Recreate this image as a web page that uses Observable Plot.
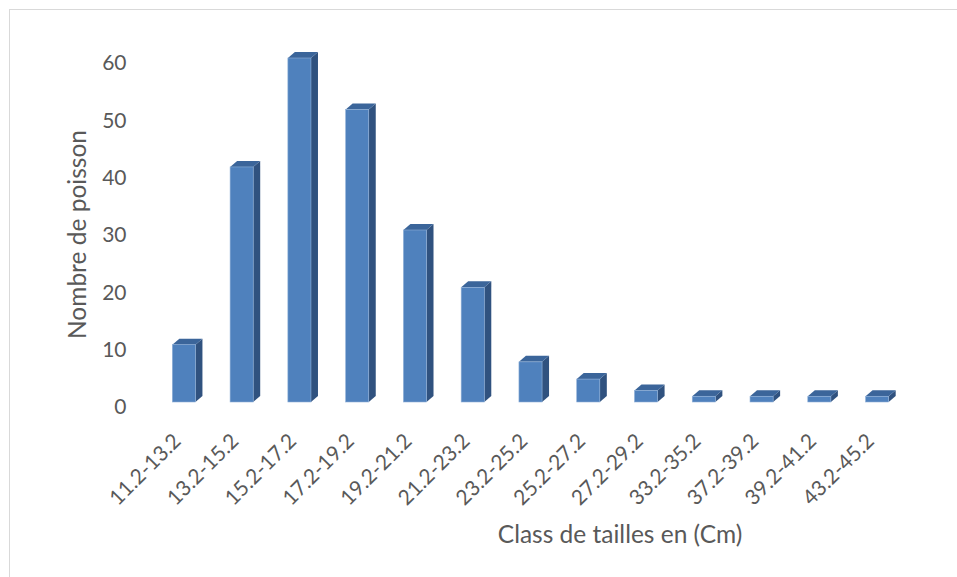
<!DOCTYPE html>
<html>
<head>
<meta charset="utf-8">
<script src="https://cdn.jsdelivr.net/npm/d3@7"></script>
<script src="https://cdn.jsdelivr.net/npm/@observablehq/plot@0.6"></script>
<style>
  html, body { margin: 0; padding: 0; background: #fff; }
  #wrap { position: relative; width: 957px; height: 577px; overflow: hidden; }
  #frame { position: absolute; left: 9px; top: 9px; right: -5px; bottom: -5px;
           border-left: 1.5px solid #d9d9d9; border-top: 1.5px solid #d9d9d9; pointer-events: none; }
  svg { display: block; }
</style>
</head>
<body>
<div id="wrap"><div id="chart"></div><div id="frame"></div></div>
<script>
const categories = ["11.2-13.2", "13.2-15.2", "15.2-17.2", "17.2-19.2", "19.2-21.2", "21.2-23.2",
  "23.2-25.2", "25.2-27.2", "27.2-29.2", "33.2-35.2", "37.2-39.2", "39.2-41.2", "43.2-45.2"];
const counts = [10, 41, 60, 51, 30, 20, 7, 4, 2, 1, 1, 1, 1];
const yTicks = [0, 10, 20, 30, 40, 50, 60];
const yTitle = "Nombre de poisson";
const xTitle = "Class de tailles en (Cm)";

const data = categories.map((c, i) => ({cat: c, n: counts[i]}));

const DEPTH_X = 7, DEPTH_Y = -6;
const FRONT = "#4f81bd", SIDE = "#30527f", TOP = "#3b659a";

function render3D(index, scales, values, dimensions, context) {
  const doc = context.document;
  const ns = "http://www.w3.org/2000/svg";
  const g = doc.createElementNS(ns, "g");
  const bw = scales.x.bandwidth();
  for (const i of index) {
    const x0 = values.x[i];
    const x1 = x0 + bw;
    const yb = values.y1[i];
    const yt = values.y2[i];
    const side = doc.createElementNS(ns, "path");
    side.setAttribute("d", `M${x1},${yb}L${x1 + DEPTH_X},${yb + DEPTH_Y}L${x1 + DEPTH_X},${yt + DEPTH_Y}L${x1},${yt}Z`);
    side.setAttribute("fill", SIDE);
    g.appendChild(side);
    const top = doc.createElementNS(ns, "path");
    top.setAttribute("d", `M${x0},${yt}L${x0 + DEPTH_X},${yt + DEPTH_Y}L${x1 + DEPTH_X},${yt + DEPTH_Y}L${x1},${yt}Z`);
    top.setAttribute("fill", TOP);
    g.appendChild(top);
    const front = doc.createElementNS(ns, "rect");
    front.setAttribute("x", x0);
    front.setAttribute("y", Math.min(yt, yb));
    front.setAttribute("width", bw);
    front.setAttribute("height", Math.abs(yb - yt));
    front.setAttribute("fill", FRONT);
    front.setAttribute("stroke", "#8fb0d8");
    front.setAttribute("stroke-width", 0.6);
    g.appendChild(front);
  }
  return g;
}

const chart = Plot.plot({
  width: 957,
  height: 577,
  marginLeft: 155,
  marginRight: 51,
  marginTop: 58,
  marginBottom: 175,
  style: {fontFamily: "Lato, 'Open Sans', sans-serif", color: "#595959", background: "transparent", overflow: "visible"},
  x: {domain: categories, paddingInner: 0.6, paddingOuter: 0.3, round: false, axis: null},
  y: {domain: [0, 60], axis: null},
  marks: [
    Plot.axisY({ticks: yTicks, tickSize: 0, tickPadding: 29, fontSize: 21, label: null, dy: 5}),
    Plot.axisX({tickSize: 0, tickRotate: -45, tickPadding: 35, fontSize: 21, label: null, dx: -7}),
    Plot.barY(data, {x: "cat", y: "n", fill: FRONT, render: render3D}),
    Plot.text([yTitle], {text: d => d, frameAnchor: "left", textAnchor: "middle", lineAnchor: "middle", dx: -77, dy: 4, rotate: -90, fontSize: 24.5, fill: "#595959"}),
    Plot.text([xTitle], {text: d => d, frameAnchor: "bottom", textAnchor: "middle", lineAnchor: "middle", dx: 89, dy: 133, fontSize: 24.5, fill: "#595959"})
  ]
});
document.getElementById("chart").appendChild(chart);
</script>
</body>
</html>
